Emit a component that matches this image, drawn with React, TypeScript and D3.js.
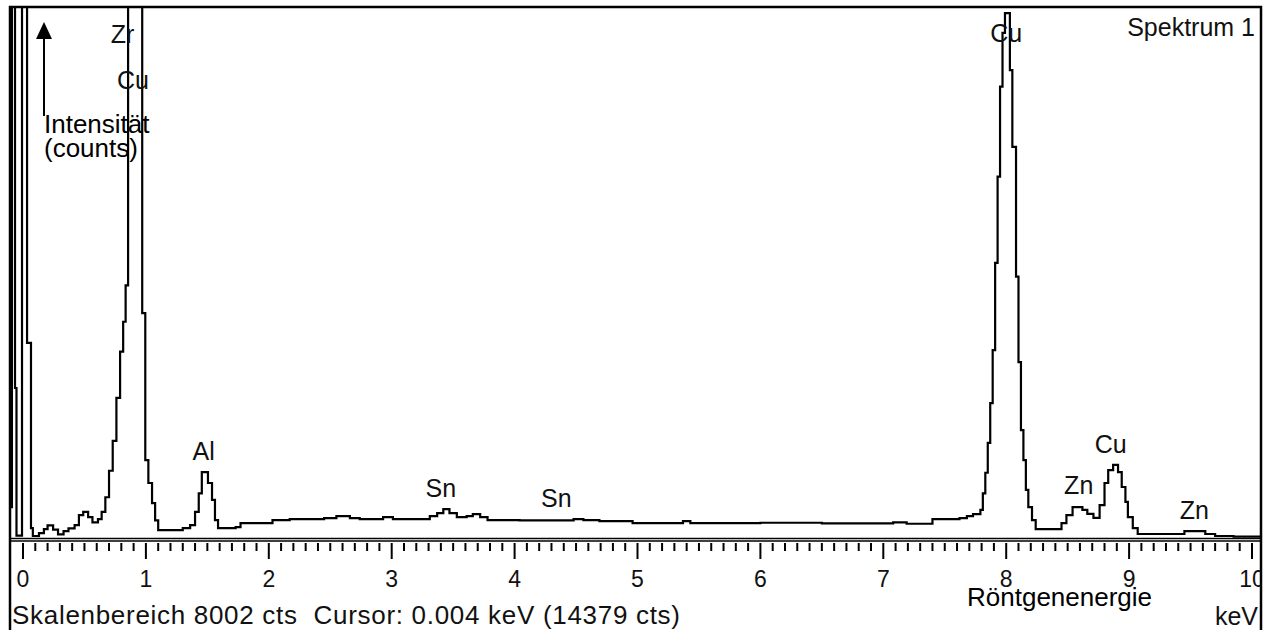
import React, { useRef, useEffect } from "react";
import * as d3 from "d3";

// spectrum as steps: energy (keV) where a channel block starts, counts held until the next one
const spectrumKeV = [
  -0.115, -0.09, -0.065, -0.053, -0.008, 0.033, 0.065, 0.08, 0.13, 0.17, 0.2, 0.245, 0.285, 0.33,
  0.37, 0.42, 0.455, 0.49, 0.53, 0.565, 0.61, 0.64, 0.67, 0.7, 0.73, 0.76, 0.79, 0.815, 0.835,
  0.855, 0.97, 0.995, 1.02, 1.05, 1.075, 1.1, 1.3, 1.36, 1.4, 1.43, 1.455, 1.505, 1.538, 1.562,
  1.587, 1.73, 1.77, 2.03, 2.17, 2.45, 2.55, 2.66, 2.74, 2.93, 3.01, 3.31, 3.37, 3.42, 3.47,
  3.53, 3.61, 3.66, 3.72, 3.78, 4.04, 4.48, 4.56, 4.69, 4.96, 5.37, 5.43, 6.0, 6.5, 7.08, 7.19,
  7.4, 7.62, 7.68, 7.73, 7.79, 7.81, 7.83, 7.85, 7.87, 7.89, 7.91, 7.93, 7.95, 7.97, 7.99, 8.03,
  8.05, 8.08, 8.1, 8.12, 8.14, 8.16, 8.18, 8.21, 8.24, 8.45, 8.49, 8.54, 8.62, 8.66, 8.71, 8.76,
  8.8, 8.83, 8.87, 8.91, 8.94, 8.97, 8.99, 9.03, 9.07, 9.45, 9.62, 9.7, 9.85, 10.2,
];
const spectrumCounts = [
  450, 9000, 2250, 20, 9000, 2930, 135, 15, 60, 120, 175, 110, 40, 90,
  130, 180, 330, 380, 300, 220, 270, 380, 600, 1000, 1450, 2100, 2800, 3250, 3800,
  9000, 3380, 1160, 815, 510, 250, 105, 135, 180, 380, 660, 980, 815, 560, 255,
  135, 150, 210, 255, 270, 285, 315, 285, 270, 300, 270, 315, 360, 420, 360,
  300, 315, 345, 300, 255, 250, 270, 255, 240, 210, 240, 210, 215, 205, 220, 200,
  270, 285, 315, 345, 410, 660, 970, 1420, 2020, 2820, 4140, 5440, 6800, 7610, 7910, 7050,
  5890, 3930, 2640, 1615, 1160, 710, 450, 255, 120, 210, 330, 450, 410, 350, 290, 480,
  815, 1010, 1090, 980, 755, 530, 300, 135, 45, 90, 45, 15, 5, 5,
];

// element labels: name, energy, height (counts) of the label baseline
const peakNames = ["Zr", "Cu", "Al", "Sn", "Sn", "Cu", "Zn", "Cu", "Zn"];
const peakKeV = [0.81, 0.895, 1.47, 3.4, 4.34, 8.0, 8.59, 8.85, 9.53];
const peakLabelCounts = [7460, 6765, 1163, 604, 453, 7475, 649, 1268, 272];

const tickLabels = ["0", "1", "2", "3", "4", "5", "6", "7", "8", "9", "10"];
const fullScale = 8002;

const Spectrum = () => {
  const svgRef = useRef<SVGSVGElement | null>(null);

  /* Draw the EDX spectrum */
  const drawSpectrum = () => {
    const W = 1267;
    const H = 630;
    const font = "'Liberation Sans', Arial, sans-serif";
    const svg = d3.select(svgRef.current).attr("width", W).attr("height", H);
    svg.selectAll("*").remove();

    svg.append("rect").attr("width", W).attr("height", H).attr("fill", "#fff");

    const x = d3.scaleLinear().domain([0, 10]).range([23, 1252]);
    const y = d3.scaleLinear().domain([0, fullScale]).range([537, 7]);

    svg
      .append("clipPath")
      .attr("id", "plotClip")
      .append("rect")
      .attr("x", 10)
      .attr("y", 7)
      .attr("width", 1251)
      .attr("height", 531);

    svg
      .append("clipPath")
      .attr("id", "frameClip")
      .append("rect")
      .attr("x", 10)
      .attr("y", 0)
      .attr("width", 1251)
      .attr("height", H);

    /* spectrum line */
    const data = spectrumKeV.map((e, i) => ({ e, c: spectrumCounts[i] }));
    const line = d3
      .line<{ e: number; c: number }>()
      .x((d) => x(d.e))
      .y((d) => y(d.c))
      .curve(d3.curveStepAfter);

    svg
      .append("path")
      .datum(data)
      .attr("clip-path", "url(#plotClip)")
      .attr("fill", "none")
      .attr("stroke", "#000")
      .attr("stroke-width", 2.2)
      .attr("d", line);

    /* frame */
    svg
      .append("path")
      .attr("d", `M10,${H} V7 H1261 V${H}`)
      .attr("fill", "none")
      .attr("stroke", "#000")
      .attr("stroke-width", 2.5);

    /* double base line */
    [538.5, 541].forEach((yy) => {
      svg
        .append("line")
        .attr("x1", 10)
        .attr("x2", 1261)
        .attr("y1", yy)
        .attr("y2", yy)
        .attr("stroke", "#000")
        .attr("stroke-width", 1.5);
    });

    /* ticks */
    const axis = svg.append("g").attr("clip-path", "url(#frameClip)");
    const minor = d3.range(0, 101).map((i) => i / 10);
    axis
      .selectAll(".tick")
      .data(minor)
      .enter()
      .append("line")
      .attr("x1", (d) => x(d))
      .attr("x2", (d) => x(d))
      .attr("y1", 543)
      .attr("y2", (d, i) => (i % 10 === 0 ? 559 : 551))
      .attr("stroke", "#000")
      .attr("stroke-width", 2);

    axis
      .selectAll(".tlabel")
      .data(tickLabels)
      .enter()
      .append("text")
      .attr("x", (d) => x(+d))
      .attr("y", 587)
      .attr("text-anchor", "middle")
      .attr("font-family", font)
      .attr("font-size", 23)
      .attr("fill", "#111")
      .text((d) => d);

    /* element labels */
    svg
      .selectAll(".peak")
      .data(peakNames)
      .enter()
      .append("text")
      .attr("x", (d, i) => x(peakKeV[i]))
      .attr("y", (d, i) => y(peakLabelCounts[i]))
      .attr("text-anchor", "middle")
      .attr("font-family", font)
      .attr("font-size", 25)
      .attr("fill", "#111")
      .text((d) => d);

    svg
      .append("text")
      .attr("x", 1255)
      .attr("y", 36)
      .attr("text-anchor", "end")
      .attr("font-family", font)
      .attr("font-size", 25)
      .attr("fill", "#111")
      .text("Spektrum\u00a01");

    /* status line */
    svg
      .append("text")
      .attr("x", 12)
      .attr("y", 624)
      .attr("font-family", font)
      .attr("font-size", 26)
      .attr("letter-spacing", 0.7)
      .attr("fill", "#111")
      .attr("xml:space", "preserve")
      .style("white-space", "pre")
      .text("Skalenbereich 8002 cts  Cursor: 0.004 keV (14379 cts)");

    svg
      .append("text")
      .attr("x", 1258)
      .attr("y", 625)
      .attr("text-anchor", "end")
      .attr("font-family", font)
      .attr("font-size", 25)
      .attr("fill", "#111")
      .text("keV");

    /* axis captions */
    svg
      .append("text")
      .attr("x", 967)
      .attr("y", 606)
      .attr("font-family", font)
      .attr("font-size", 26)
      .attr("fill", "#000")
      .text("Röntgenenergie");

    svg
      .append("line")
      .attr("x1", 44)
      .attr("x2", 44)
      .attr("y1", 116)
      .attr("y2", 36)
      .attr("stroke", "#000")
      .attr("stroke-width", 2);
    svg
      .append("path")
      .attr("d", "M44,22 L52,39 L36,39 Z")
      .attr("fill", "#000");

    svg
      .append("text")
      .attr("x", 44)
      .attr("y", 133)
      .attr("font-family", font)
      .attr("font-size", 26)
      .attr("fill", "#000")
      .text("Intensität");
    svg
      .append("text")
      .attr("x", 44)
      .attr("y", 157)
      .attr("font-family", font)
      .attr("font-size", 26)
      .attr("fill", "#000")
      .text("(counts)");
  };

  useEffect(() => {
    drawSpectrum();
  }, []);

  return (
    <svg
      ref={svgRef}
      style={{ position: "absolute", left: 0, top: 0, display: "block" }}
    />
  );
};

export default function App() {
  return <Spectrum />;
}
